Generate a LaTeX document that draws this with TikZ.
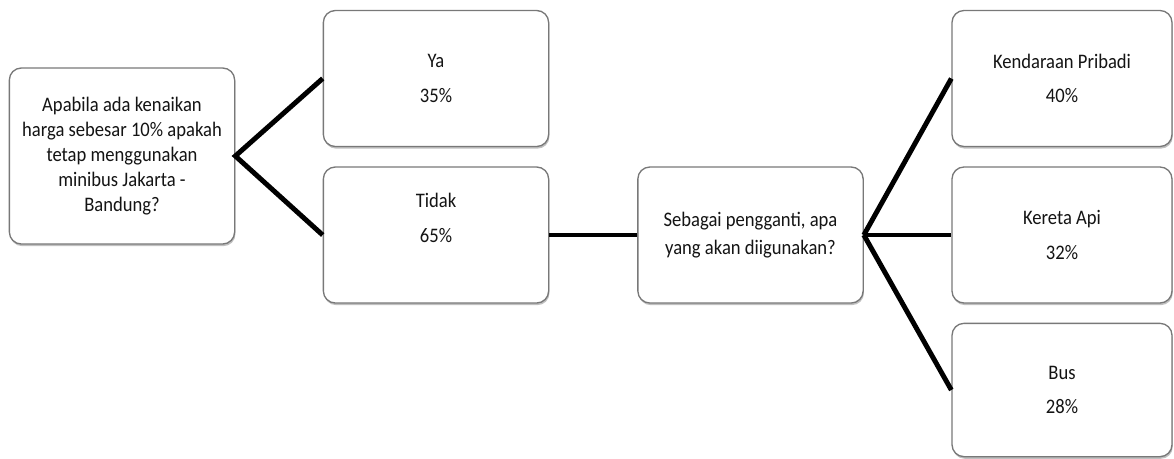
\documentclass[tikz,border=0pt]{standalone}
\usepackage{fontspec}
\setmainfont{Carlito}[FakeStretch=0.9]
\usetikzlibrary{shadows}

\begin{document}
\begin{tikzpicture}[
    x=0.75pt, y=-0.75pt,
    every node/.style={font=\fontsize{15.5}{18.8}\selectfont, text=textcolor},
    box/.style={draw=boxline, line width=1pt, fill=white, rounded corners=9pt,
        align=center, inner sep=0pt,
        drop shadow={shadow xshift=0.6pt, shadow yshift=-1.6pt, opacity=0.45, fill=black!55}},
    answer/.style={box, minimum width=169pt, minimum height=102pt},
    question/.style={box, minimum width=169pt},
    branch/.style={line width=3.7pt, black}
]
\definecolor{boxline}{RGB}{120,120,120}   % grey frame
\definecolor{textcolor}{RGB}{20,20,20}    % near black

\useasboundingbox (0,0) rectangle (1174,458);

% First question and its two answers
\node[question, minimum height=132pt] (harga) at (122,156)
{Apabila ada kenaikan\\harga sebesar 10\% apakah\\tetap menggunakan\\minibus Jakarta -\\Bandung?};

\node[answer] (ya) at (436,78.5) {Ya\\[7pt]35\%};
\node[answer] (tidak) at (436,235) {Tidak\\[7pt]65\%\\[7pt]\mbox{}};

% Second question and the replacements
\node[question, minimum height=102pt] (ganti) at (750.5,235)
{Sebagai pengganti, apa\\[2pt]yang akan diigunakan?};

\node[answer, minimum width=165pt] (pribadi) at (1062,78.5) {Kendaraan Pribadi\\[7pt]40\%};
\node[answer, minimum width=165pt] (kereta) at (1062,235) {Kereta Api\\[7pt]32\%};
\node[answer, minimum width=165pt, minimum height=100pt] (bus) at (1062,390) {Bus\\[7pt]28\%};

% Branches
\draw[branch] (ya.west) -- (harga.east) -- (tidak.west);
\draw[branch] (tidak.east) -- (ganti.west);
\draw[branch] (ganti.east) -- (pribadi.west);
\draw[branch] (ganti.east) -- (kereta.west);
\draw[branch] (ganti.east) -- (bus.west);

\end{tikzpicture}
\end{document}
